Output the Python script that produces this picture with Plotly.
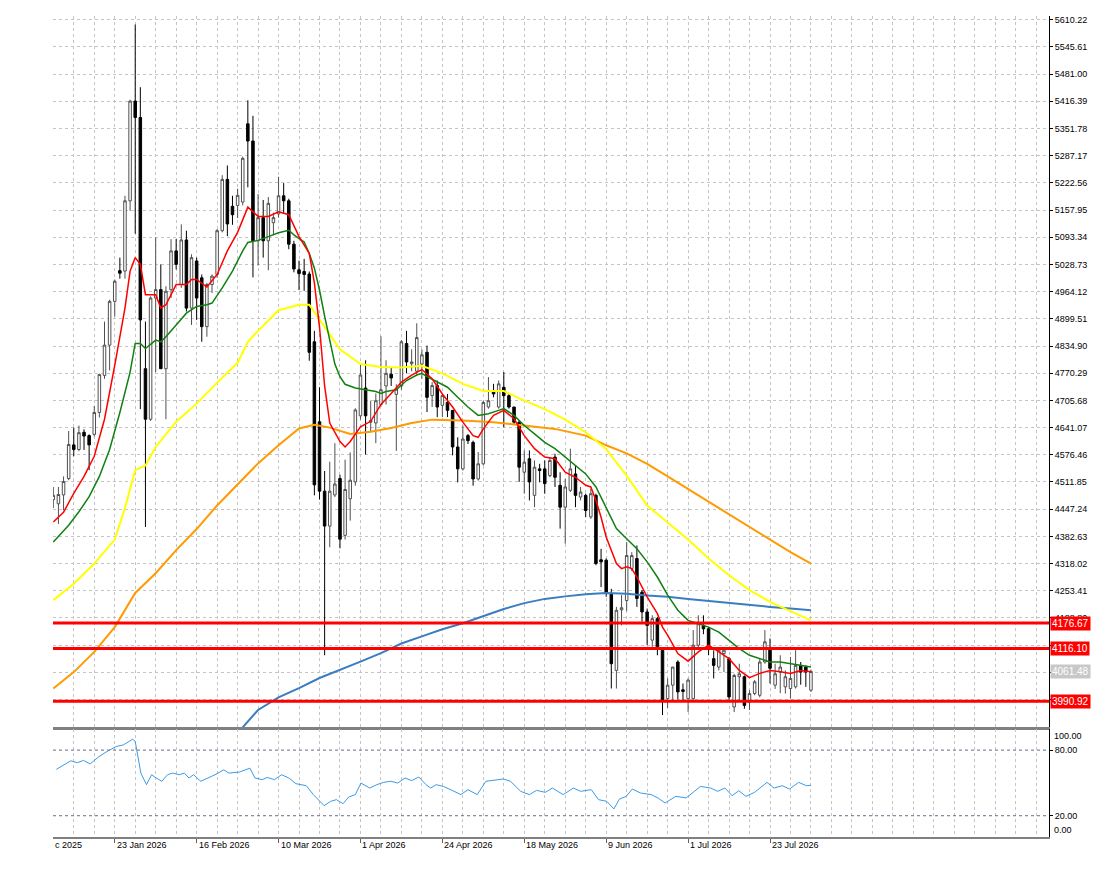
import plotly.graph_objects as go

# daily bars, index 0 .. 148 (last bar still open at 4061.48)
opens = [
    4470, 4460, 4481, 4520, 4600, 4589, 4630, 4622, 4625, 4677,
    4765, 4837, 4941, 5014, 5013, 5180, 5417, 5378, 4781, 4661,
    4949, 4969, 4781, 4969, 5061, 4981, 5087, 4925, 5037, 4997,
    4881, 4981, 5005, 5109, 5231, 5167, 5169, 5177, 5363, 5322,
    5085, 5140, 5085, 5128, 5149, 5192, 5180, 5077, 5016, 5012,
    5006, 4845, 4655, 4490, 4407, 4481, 4520, 4385, 4472, 4512,
    4669, 4735, 4654, 4652, 4696, 4740, 4768, 4720, 4740, 4841,
    4793, 4775, 4792, 4820, 4717, 4741, 4694, 4701, 4682, 4595,
    4543, 4622, 4606, 4519, 4555, 4690, 4729, 4690, 4737, 4717,
    4690, 4654, 4535, 4567, 4480, 4543, 4543, 4527, 4571, 4504,
    4452, 4492, 4531, 4476, 4480, 4429, 4480, 4327, 4326, 4247,
    4064, 4208, 4230, 4306, 4330, 4250, 4203, 4136, 4187, 4112,
    3997, 4029, 4084, 4018, 3997, 3997, 4124, 4171, 4163, 4092,
    4072, 4104, 4092, 3977, 4049, 4049, 3989, 4009, 4005, 4084,
    4116, 4029, 4060, 4025, 4021, 4025, 4076, 4072, 4017,
]
highs = [
    4500, 4500, 4525, 4633, 4641, 4646, 4637, 4625, 4693, 4769,
    4893, 4945, 4993, 5045, 5192, 5420, 5599, 5450, 4893, 4953,
    5093, 5029, 4977, 5089, 5089, 5124, 5109, 5053, 5045, 5005,
    4985, 5005, 5113, 5241, 5264, 5192, 5209, 5285, 5419, 5382,
    5196, 5182, 5189, 5152, 5237, 5222, 5185, 5085, 5038, 5042,
    5012, 4871, 4737, 4538, 4560, 4604, 4529, 4565, 4582, 4687,
    4792, 4801, 4705, 4722, 4858, 4801, 4784, 4744, 4849, 4871,
    4827, 4889, 4827, 4836, 4749, 4753, 4721, 4721, 4682, 4618,
    4646, 4626, 4610, 4583, 4705, 4761, 4745, 4753, 4773, 4721,
    4690, 4658, 4587, 4587, 4563, 4555, 4563, 4571, 4579, 4535,
    4519, 4591, 4551, 4500, 4484, 4496, 4484, 4353, 4330, 4258,
    4215, 4243, 4369, 4345, 4361, 4255, 4211, 4195, 4191, 4116,
    4045, 4072, 4088, 4033, 4045, 4160, 4195, 4195, 4167, 4112,
    4116, 4120, 4096, 4056, 4080, 4052, 4017, 4041, 4092, 4160,
    4140, 4080, 4100, 4064, 4096, 4112, 4084, 4076, 4066,
]
lows = [
    4450, 4412, 4445, 4516, 4573, 4585, 4588, 4540, 4620, 4665,
    4757, 4777, 4905, 4995, 4995, 5156, 5102, 4685, 4405, 4657,
    4773, 4781, 4661, 4949, 5017, 4973, 4917, 4885, 4897, 4845,
    4857, 4961, 4997, 5105, 5096, 5123, 5139, 5169, 5212, 4998,
    5026, 5045, 5015, 5100, 5140, 5150, 5065, 5010, 4968, 4966,
    4800, 4480, 4470, 4100, 4357, 4476, 4354, 4375, 4420, 4503,
    4660, 4577, 4630, 4604, 4691, 4696, 4740, 4586, 4731, 4770,
    4775, 4766, 4757, 4678, 4690, 4666, 4666, 4666, 4575, 4511,
    4539, 4602, 4503, 4515, 4551, 4686, 4713, 4686, 4642, 4686,
    4650, 4512, 4484, 4468, 4452, 4511, 4484, 4523, 4500, 4401,
    4365, 4488, 4452, 4468, 4428, 4424, 4314, 4262, 4239, 4021,
    4021, 4171, 4205, 4300, 4215, 4180, 4124, 4120, 4100, 3958,
    3975, 3989, 3995, 3993, 3965, 3990, 4115, 4150, 4100, 4045,
    4064, 4060, 3993, 3965, 3993, 3973, 3970, 4005, 4000, 4080,
    4033, 4020, 4010, 4009, 3997, 4021, 4030, 4025, 4013,
]
closes = [
    4480, 4482, 4513, 4601, 4589, 4629, 4621, 4600, 4677, 4767,
    4837, 4941, 4989, 5008, 5180, 5417, 5378, 4897, 4661, 4949,
    4969, 4781, 4965, 5061, 5029, 5087, 4925, 5045, 4949, 4881,
    4981, 5001, 5109, 5231, 5125, 5147, 5193, 5281, 5322, 5085,
    5140, 5085, 5174, 5140, 5192, 5180, 5077, 5018, 5007, 5005,
    4820, 4505, 4490, 4407, 4490, 4507, 4376, 4494, 4516, 4683,
    4766, 4669, 4658, 4705, 4731, 4770, 4759, 4733, 4845, 4797,
    4797, 4855, 4814, 4713, 4741, 4690, 4717, 4682, 4595, 4543,
    4614, 4610, 4519, 4555, 4701, 4705, 4721, 4745, 4717, 4690,
    4654, 4547, 4559, 4512, 4547, 4539, 4508, 4563, 4523, 4452,
    4500, 4543, 4480, 4488, 4444, 4484, 4318, 4322, 4247, 4080,
    4207, 4213, 4337, 4337, 4235, 4203, 4171, 4187, 4116, 3993,
    4029, 4072, 4013, 4014, 4041, 4124, 4175, 4163, 4120, 4076,
    4112, 4112, 4001, 4052, 4056, 3981, 4009, 4037, 4084, 4132,
    4069, 4056, 4072, 4049, 4045, 4076, 4060, 4060, 4061.48,
]
bars = list(range(len(closes)))

# moving averages (bar index, value)
red_x = [0, 2, 4, 6, 8, 10, 12, 13, 14, 15, 16, 17, 18, 20, 21, 22, 24, 26, 27, 28,
         30, 32, 34, 36, 38, 40, 42, 44, 46, 48, 50, 51, 52, 53, 54, 56, 57, 58, 60, 62,
         64, 66, 68, 70, 72, 74, 76, 78, 80, 82, 83, 84, 86, 88, 90, 92, 94, 96, 98, 100,
         102, 104, 105, 106, 107, 108, 109, 110, 111, 112, 113, 114, 116, 118, 119, 120, 122, 124, 126, 128,
         130, 132, 134, 136, 138, 140, 142, 144, 146, 148]
red_y = [4417, 4440, 4485, 4525, 4573, 4661, 4789, 4861, 4925, 5013, 5045, 5029, 4957, 4957, 4925, 4933, 4981, 4981, 4993, 4993,
         4975, 5005, 5061, 5105, 5165, 5143, 5143, 5154, 5147, 5095, 5055, 4985, 4880, 4740, 4652, 4608, 4595, 4608, 4643, 4656,
         4696, 4722, 4749, 4766, 4779, 4757, 4721, 4690, 4654, 4622, 4618, 4638, 4670, 4682, 4662, 4622, 4591, 4571, 4567, 4535,
         4523, 4504, 4500, 4468, 4428, 4381, 4349, 4318, 4306, 4310, 4306, 4286, 4239, 4199, 4167, 4148, 4104, 4086, 4108, 4124,
         4108, 4092, 4064, 4047, 4057, 4064, 4061, 4057, 4064, 4061]

green_x = [0, 3, 5, 7, 9, 11, 13, 15, 16, 17, 18, 20, 21, 22, 24, 26, 28, 30, 31, 33,
           35, 37, 38, 40, 42, 44, 46, 47, 49, 50, 51, 52, 53, 54, 55, 56, 57, 59, 61, 63,
           64, 65, 67, 69, 71, 72, 73, 75, 77, 79, 81, 83, 85, 87, 88, 90, 92, 94, 96, 98,
           100, 102, 104, 106, 108, 110, 112, 114, 116, 118, 120, 122, 124, 126, 128, 130, 132, 134, 136, 138,
           140, 142, 144, 146, 148]
green_y = [4369, 4409, 4441, 4477, 4525, 4589, 4677, 4773, 4841, 4841, 4829, 4849, 4845, 4857, 4885, 4913, 4929, 4933, 4937, 4973,
           5013, 5061, 5081, 5086, 5095, 5104, 5110, 5099, 5082, 5055, 5020, 4968, 4906, 4845, 4792, 4762, 4744, 4735, 4731, 4727,
           4722, 4727, 4731, 4753, 4766, 4770, 4762, 4749, 4737, 4713, 4690, 4670, 4674, 4682, 4686, 4670, 4646, 4626, 4606, 4591,
           4571, 4551, 4531, 4500, 4452, 4401, 4377, 4353, 4322, 4286, 4243, 4207, 4183, 4175, 4167, 4155, 4136, 4116, 4100, 4092,
           4084, 4084, 4080, 4076, 4072]

yellow_x = [0, 4, 8, 12, 14, 16, 18, 20, 24, 28, 32, 36, 38, 40, 44, 48, 50, 52, 54, 56,
            60, 64, 68, 72, 76, 80, 84, 88, 92, 96, 100, 104, 108, 112, 116, 120, 124, 128, 132, 136,
            140, 144, 148]
yellow_y = [4231, 4270, 4318, 4375, 4450, 4540, 4551, 4595, 4655, 4698, 4748, 4795, 4845, 4871, 4920, 4933, 4933, 4898, 4862, 4827,
            4792, 4785, 4784, 4788, 4770, 4745, 4728, 4728, 4705, 4685, 4660, 4630, 4590, 4527, 4456, 4415, 4375, 4330, 4290, 4255,
            4227, 4205, 4183]

orange_x = [0, 4, 8, 12, 16, 20, 24, 28, 32, 36, 40, 44, 48, 51, 54, 58, 62, 66, 70, 74,
            80, 86, 92, 98, 104, 108, 112, 116, 120, 124, 128, 132, 136, 140, 144, 148]
orange_y = [4021, 4060, 4108, 4167, 4248, 4295, 4350, 4400, 4456, 4505, 4556, 4599, 4639, 4648, 4641, 4626, 4631, 4640, 4652, 4660,
            4658, 4654, 4646, 4638, 4622, 4599, 4580, 4555, 4525, 4495, 4465, 4435, 4405, 4375, 4345, 4318]

blue_x = [36, 40, 44, 48, 52, 56, 60, 64, 68, 72, 76, 80, 84, 88, 92, 96, 100, 104, 108, 112,
          116, 120, 124, 128, 132, 136, 140, 144, 148]
blue_y = [3915, 3970, 4000, 4022, 4046, 4065, 4085, 4105, 4128, 4145, 4162, 4176, 4193, 4210, 4224, 4234, 4240, 4245, 4248, 4246,
          4242, 4239, 4234, 4229, 4224, 4219, 4215, 4211, 4207]

# RSI sub window
rsi_x = [0.6, 3.4, 4.7, 5.9, 7.2, 8.9, 10.5, 12.3, 13.7, 15.5, 16.0, 17.1, 18.2, 19.2, 20.1, 21.2, 22.3, 23.3, 24.6, 25.6,
         26.5, 27.4, 28.8, 30.2, 31.6, 33.3, 34.3, 36.4, 38.4, 39.4, 40.8, 41.8, 43.2, 44.6, 46.0, 47.4, 49.4, 50.8, 52.9, 54.2,
         55.3, 56.6, 57.7, 59.0, 60.1, 61.8, 63.2, 64.5, 65.9, 67.3, 68.7, 70.0, 71.4, 72.8, 73.7, 74.8, 76.2, 77.9, 79.6, 81.0,
         82.8, 84.5, 86.5, 87.9, 89.3, 91.3, 93.0, 94.4, 96.1, 97.5, 99.6, 101.6, 103.0, 105.1, 106.5, 108.1, 109.5, 110.6, 111.9, 113.1,
         114.7, 116.8, 118.1, 119.5, 121.6, 123.6, 125.0, 126.4, 128.4, 129.8, 131.2, 132.6, 133.9, 135.3, 137.0, 139.4, 140.8, 142.4, 143.8, 145.6,
         147.1, 148.0]
rsi_y = [62.4, 70.2, 68.5, 70.6, 67.4, 74, 78.8, 83.3, 84.8, 90, 88, 59, 48.4, 57.5, 54.5, 51.5, 57.5, 59, 57.5, 59,
         54.5, 57.5, 51.5, 54.5, 57.5, 62, 59, 60, 63.5, 54.5, 53, 55, 53, 57.5, 54.5, 49.3, 47.5, 39.3, 29.2, 33.2,
         34.7, 31, 37.1, 39.3, 49.9, 45.3, 48.4, 50.5, 51.5, 49.9, 54.5, 52.1, 55.4, 48.4, 45.3, 48.4, 46.8, 43.2, 39.3, 43.8,
         39.3, 51.5, 53, 53.6, 51.5, 42.3, 39.3, 43.2, 41.4, 45.3, 39.3, 45.3, 42.3, 43.8, 34.7, 33.2, 26.2, 35.3, 37.7, 44.4,
         40.8, 39.3, 36.3, 31.7, 37.7, 36.3, 41.4, 46.8, 45.3, 42.3, 45.3, 38.3, 42.9, 37.7, 41.4, 50.5, 45.3, 47.5, 44.4, 50.5,
         47.5, 47.8]
rsi_levels = [80, 20]

date_bars = [12, 28, 44, 60, 76, 92, 108, 124, 140]
date_labels = ["23 Jan 2026", "16 Feb 2026", "10 Mar 2026", "1 Apr 2026", "24 Apr 2026",
               "18 May 2026", "9 Jun 2026", "1 Jul 2026", "23 Jul 2026"]

# price scale of the main window (the lowest three are hidden behind the level labels)
price_ticks = [5610.22, 5545.61, 5481.00, 5416.39, 5351.78, 5287.17, 5222.56, 5157.95, 5093.34,
               5028.73, 4964.12, 4899.51, 4834.90, 4770.29, 4705.68, 4641.07, 4576.46, 4511.85,
               4447.24, 4382.63, 4318.02, 4253.41, 4188.80, 4124.19, 4059.58, 3994.97]
hidden_ticks = [4124.19, 4059.58, 3994.97]

levels = [4176.67, 4116.10, 3990.92]
last_price = 4061.48

FONT = "Liberation Sans, Arial, sans-serif"
FS = 9
GRID = "#c4c4c4"
X_RANGE = [-0.06, 194.5]
MAIN_BOTTOM = 0.1338
RSI_TOP = 0.1314

fig = go.Figure()

fig.add_trace(go.Candlestick(
    x=bars, open=opens, high=highs, low=lows, close=closes,
    increasing=dict(line=dict(color="#505050", width=1), fillcolor="white"),
    decreasing=dict(line=dict(color="black", width=1), fillcolor="black"),
    whiskerwidth=0, xaxis="x", yaxis="y", showlegend=False, hoverinfo="skip"))

for xs, ys, col, w in [(blue_x, blue_y, "#3a7dc0", 2),
                       (orange_x, orange_y, "#ff9a00", 2),
                       (yellow_x, yellow_y, "#ffff00", 2),
                       (green_x, green_y, "#108010", 1.5),
                       (red_x, red_y, "#ff0000", 1.5)]:
    fig.add_trace(go.Scatter(x=xs, y=ys, mode="lines", line=dict(color=col, width=w),
                             xaxis="x", yaxis="y", showlegend=False, hoverinfo="skip"))

fig.add_trace(go.Scatter(x=rsi_x, y=rsi_y, mode="lines", line=dict(color="#3c9be6", width=1),
                         xaxis="x2", yaxis="y2", showlegend=False, hoverinfo="skip"))

shapes = []
for lv in levels:
    shapes.append(dict(type="line", xref="paper", x0=0, x1=1, yref="y", y0=lv, y1=lv,
                       line=dict(color="#ff0000", width=3)))
for lv in rsi_levels:
    shapes.append(dict(type="line", xref="paper", x0=0, x1=1, yref="y2", y0=lv, y1=lv,
                       line=dict(color="#6a6a8a", width=1, dash="dot")))

annotations = []
for lv in levels:
    annotations.append(dict(xref="paper", x=1, xanchor="left", xshift=1, yref="y", y=lv,
                            text=f"{lv:.2f}", showarrow=False, bgcolor="#ff0000",
                            font=dict(color="white", size=FS + 1, family=FONT), borderpad=1))
annotations.append(dict(xref="paper", x=1, xanchor="left", xshift=1, yref="y", y=last_price,
                        text=f"{last_price:.2f}", showarrow=False, bgcolor="#c8c8c8",
                        font=dict(color="white", size=FS + 1, family=FONT), borderpad=1))
annotations.append(dict(xref="paper", x=1, xanchor="left", xshift=3, yref="y2", y=99.2, yanchor="top",
                        text="100.00", showarrow=False, font=dict(size=FS, family=FONT)))
annotations.append(dict(xref="paper", x=1, xanchor="left", xshift=3, yref="y2", y=0.55, yanchor="bottom",
                        text="0.00", showarrow=False, font=dict(size=FS, family=FONT)))
for b, lab in zip(date_bars, date_labels):
    annotations.append(dict(xref="x2", x=b, xanchor="left", yref="paper", y=0, yanchor="top", yshift=-1,
                            text=lab, showarrow=False, font=dict(size=FS, family=FONT)))
annotations.append(dict(xref="paper", x=0, xanchor="left", yref="paper", y=0, yanchor="top", yshift=-1,
                        text="c 2025", showarrow=False, font=dict(size=FS, family=FONT)))

# the page body has an 8px margin, so the figure is a little smaller than the window
fig.update_layout(
    width=1086, height=857,
    margin=dict(l=45, r=41, t=7, b=28),
    paper_bgcolor="white", plot_bgcolor="white",
    showlegend=False,
    font=dict(family=FONT, size=FS, color="black"),
    shapes=shapes, annotations=annotations,
    xaxis=dict(domain=[0, 1], anchor="y", range=X_RANGE, rangeslider=dict(visible=False),
               tickmode="linear", tick0=0, dtick=4, showticklabels=False, ticks="",
               showgrid=True, gridcolor=GRID, griddash="dot", gridwidth=1, zeroline=False,
               showline=True, linecolor="#808080", linewidth=3),
    xaxis2=dict(domain=[0, 1], anchor="y2", matches="x", tickmode="array", tickvals=date_bars,
                showticklabels=False, ticks="outside", ticklen=4, tickcolor="#606060",
                showgrid=True, gridcolor=GRID, griddash="dot", zeroline=False,
                minor=dict(tickmode="linear", tick0=0, dtick=4, showgrid=True, gridcolor=GRID,
                           griddash="dot", ticks=""),
                showline=True, linecolor="#808080", linewidth=2),
    yaxis=dict(domain=[MAIN_BOTTOM, 1], anchor="x", side="right", range=[3929.2, 5619.2],
               tickmode="array", tickvals=price_ticks,
               ticktext=["" if t in hidden_ticks else f"{t:.2f}" for t in price_ticks],
               ticks="outside", ticklen=3, tickcolor="black",
               showline=True, linecolor="black", linewidth=1,
               showgrid=True, gridcolor=GRID, griddash="dot", zeroline=False),
    yaxis2=dict(domain=[0, RSI_TOP], anchor="x2", side="right", range=[0.55, 99.2],
                tickvals=rsi_levels, ticktext=["80.00", "20.00"],
                ticks="outside", ticklen=3, tickcolor="black",
                showline=True, linecolor="black", linewidth=1,
                showgrid=False, zeroline=False),
)

fig.write_html("out.html")
